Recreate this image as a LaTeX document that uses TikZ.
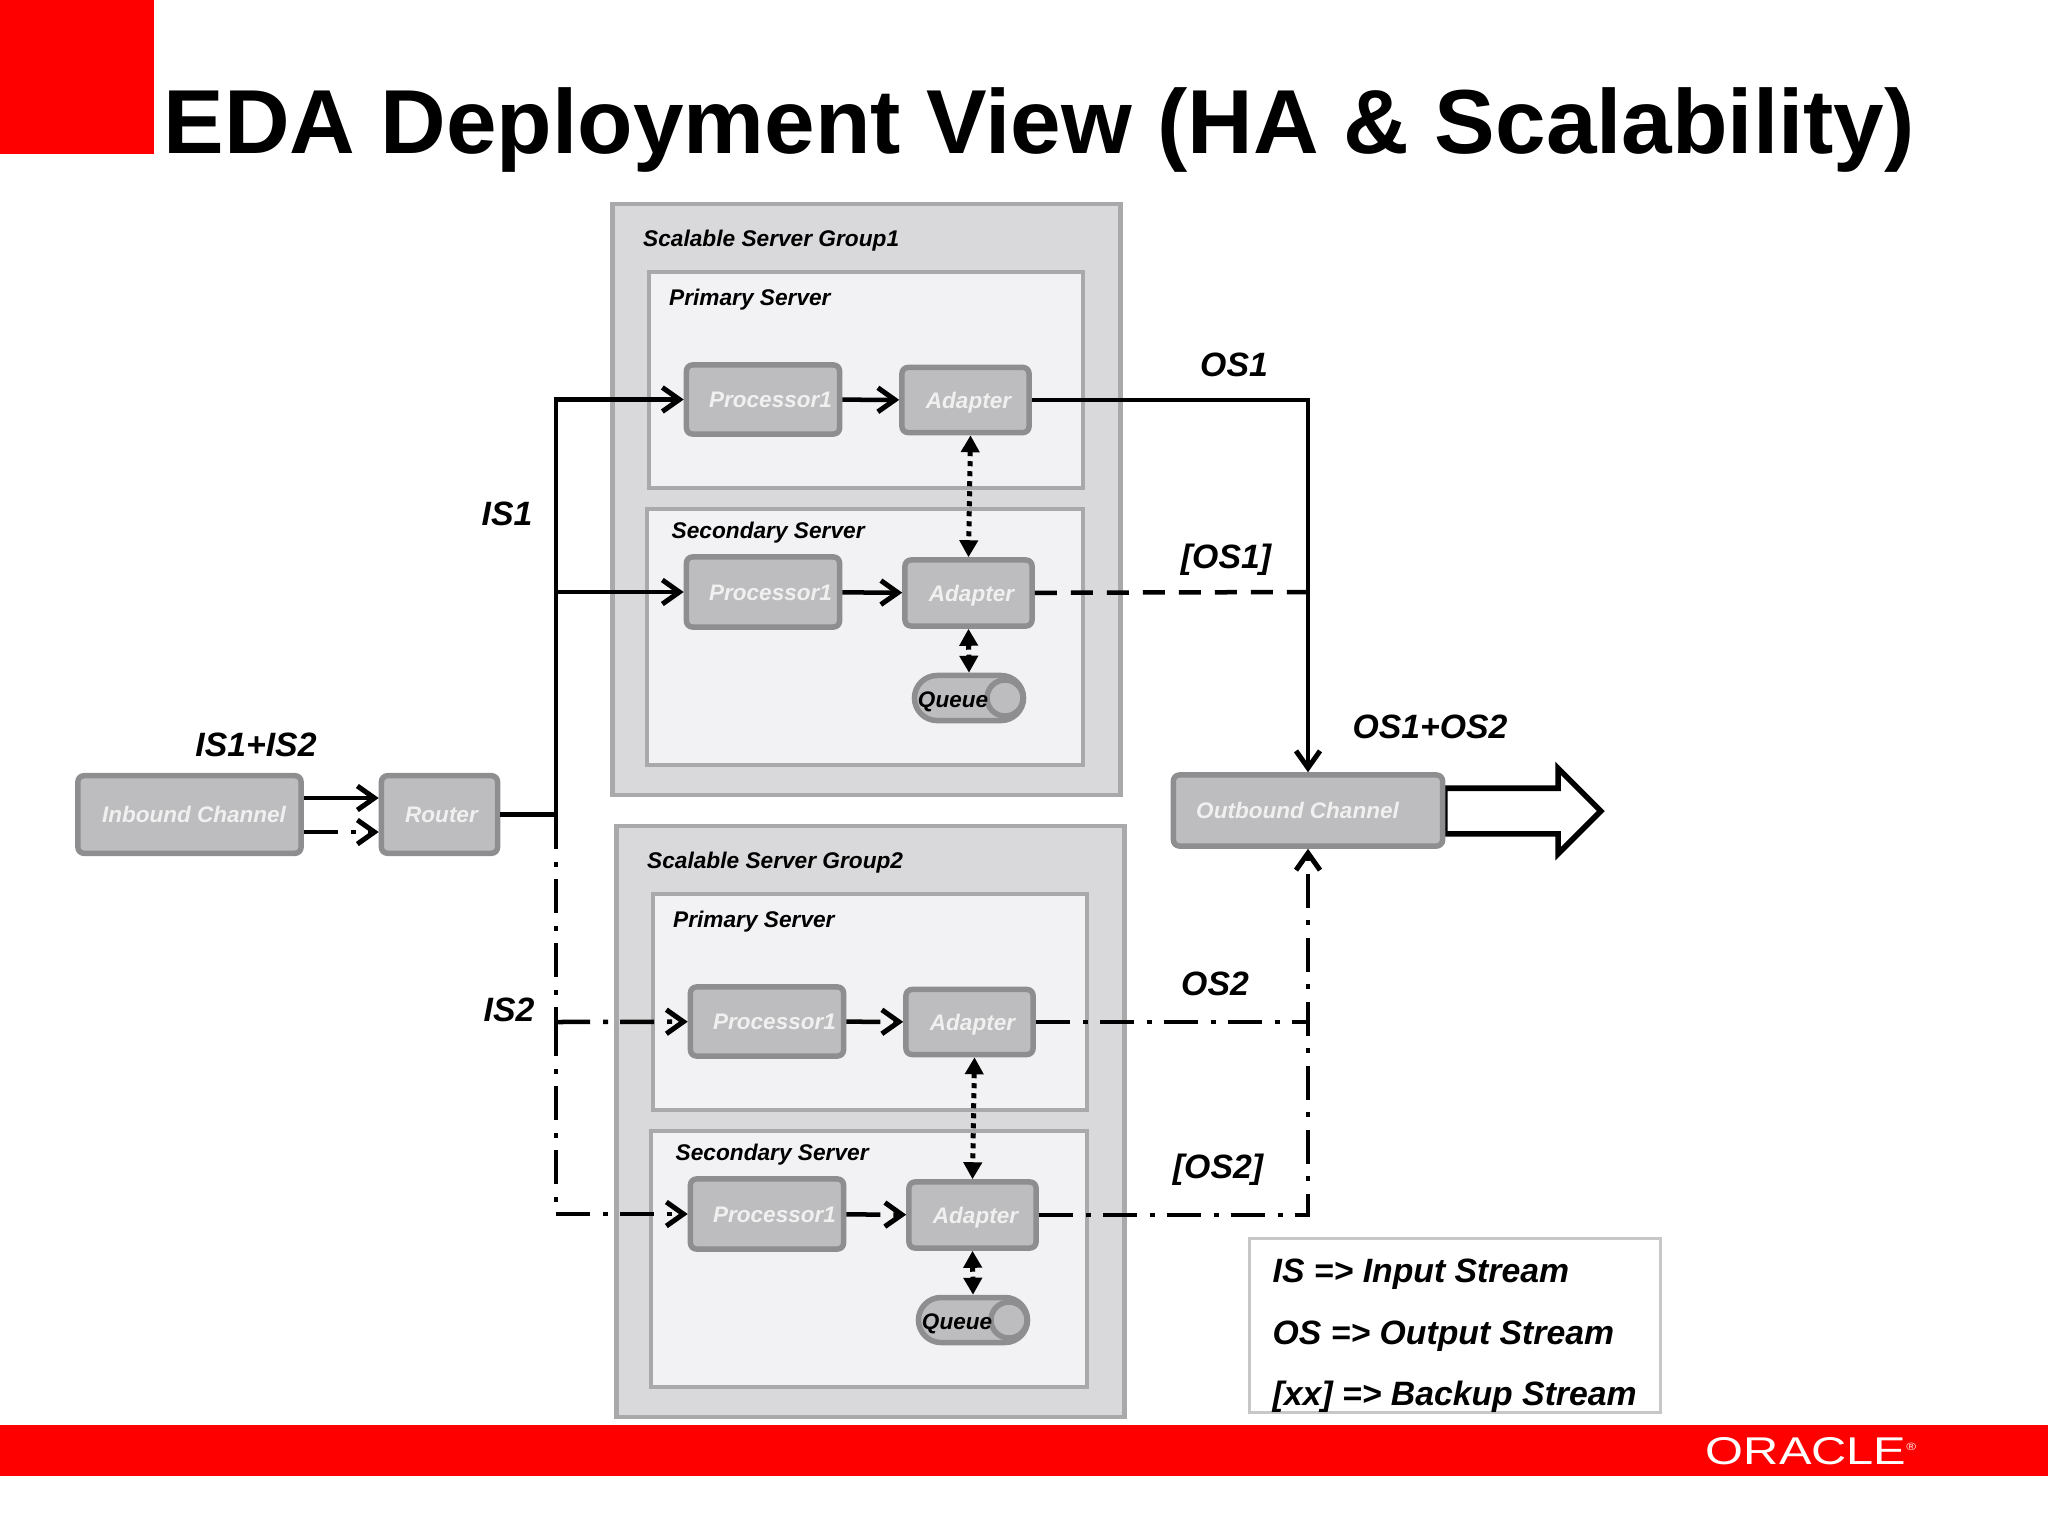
\documentclass[tikz,border=0pt]{standalone}
\usepackage{fontspec}
\setmainfont{Liberation Sans}
\usetikzlibrary{arrows.meta,shapes.misc,shapes.arrows}
\definecolor{oraclered}{HTML}{FF0000}
\definecolor{groupfill}{HTML}{D9D9DB}
\definecolor{groupline}{HTML}{A9A9AB}
\definecolor{serverfill}{HTML}{F2F2F4}
\definecolor{boxfill}{HTML}{BDBDBF}
\definecolor{boxline}{HTML}{8E8E90}
\definecolor{boxtext}{HTML}{F0F0F0}
\tikzstyle{groupbox}=[draw=groupline,fill=groupfill,line width=0.045cm,inner sep=0pt]
\tikzstyle{serverbox}=[draw=groupline,fill=serverfill,line width=0.04cm,inner sep=0pt]
\tikzstyle{unit}=[draw=boxline,fill=boxfill,line width=0.055cm,rounded corners=0.06cm,inner sep=0pt,text=boxtext,text height=0.24cm,text depth=0.08cm,font=\fontsize{6.4}{7}\selectfont\bfseries\itshape]
\tikzstyle{caption}=[anchor=base west,inner sep=0pt,font=\fontsize{6.45}{8}\selectfont\bfseries\itshape]
\tikzstyle{stream}=[inner sep=0pt,font=\fontsize{9.6}{11}\selectfont\bfseries\itshape]
\tikzstyle{flow}=[draw,line width=0.045cm,-{Straight Barb[length=0.17cm,width=0.24cm,line width=0.05cm]}]
\tikzstyle{solidline}=[draw,line width=0.045cm]
\tikzstyle{backupline}=[draw,line width=0.045cm,dash pattern=on 0.22cm off 0.14cm]
\tikzstyle{dashdot}=[dash pattern=on 0.34cm off 0.13cm on 0.05cm off 0.12cm]
\tikzstyle{sync}=[draw,line width=0.05cm,dash pattern=on 0.05cm off 0.05cm,{Triangle[length=0.17cm,width=0.18cm]}-{Triangle[length=0.17cm,width=0.18cm]}]

\begin{document}
\begin{tikzpicture}[x=0.01cm,y=-0.01cm]
    \useasboundingbox (0,0) rectangle (2048,1536);
    % Red corner, footer and title
    \fill[oraclered] (0,0) rectangle (154,154);
    \fill[oraclered] (0,1425) rectangle (2048,1476);
    \node[anchor=base west,inner sep=0pt,font=\fontsize{25.85}{30}\selectfont\bfseries] (title) at (163,153) {EDA Deployment View (HA \& Scalability)};
    \node[inner sep=0pt,text=white,xscale=1.26,transform shape,font=\fontsize{11}{12}\selectfont] (logo) at (1811,1451) {ORACLE\raisebox{0.14cm}{\fontsize{3}{3}\selectfont\textregistered}};

    % Two server groups, the second one is the first moved down
    \foreach \g/\dx/\dy/\inner in {1/0/0/solid,2/4/622/dashdot} {
    \begin{scope}[shift={(\dx,\dy)}]
        \node[groupbox,minimum width=5.08cm,minimum height=5.91cm] (Group\g) at (866.5,499.5) {};
        \node[serverbox,minimum width=4.34cm,minimum height=2.16cm] (Primary\g) at (866,380) {};
        \node[serverbox,minimum width=4.365cm,minimum height=2.56cm] (Secondary\g) at (865,637) {};
        \node[caption] (GroupText\g) at (642.5,246.5) {Scalable Server Group\g};
        \node[caption] (PrimaryText\g) at (668.5,305) {Primary Server};
        \node[caption] (SecondaryText\g) at (671,538.5) {Secondary Server};

        \foreach \pos/\name/\boxw/\boxh/\pad/\txt in {{(763,399.5)/ProcA/1.53/0.69/0.15/Processor1},{(965.5,400)/AdaptA/1.27/0.65/0.06/Adapter},{(763,592)/ProcB/1.53/0.70/0.15/Processor1},{(968.5,593)/AdaptB/1.27/0.66/0.06/Adapter}}
            \node[unit,minimum width=\boxw cm,minimum height=\boxh cm] (\name\g) at \pos {\hspace*{\pad cm}\txt};

        \node[draw=boxline,fill=boxfill,line width=0.055cm,rounded rectangle,inner sep=0pt,minimum width=1.09cm,minimum height=0.45cm] (Queue\g) at (969,698) {};
        \node[circle,draw=boxline,fill=boxfill,line width=0.055cm,inner sep=0pt,minimum size=0.36cm] (QueueEnd\g) at (1005,698) {};
        \node[inner sep=0pt,font=\fontsize{6.4}{7}\selectfont\bfseries\itshape] (QueueText\g) at (953,701.5) {Queue};

        \path[flow,\inner] (ProcA\g) -- (AdaptA\g);
        \path[flow,\inner] (ProcB\g) -- (AdaptB\g);
        \path[sync] ([xshift=0.05cm]AdaptA\g.south) -- (AdaptB\g.north);
        \path[sync] (AdaptB\g.south) -- (Queue\g.north);
    \end{scope}
    }

    % Channels and router
    \node[single arrow,draw=black,fill=white,line width=0.055cm,inner xsep=0pt,inner ysep=0.2cm,anchor=tail,minimum height=1.56cm,minimum width=0.8cm,single arrow head extend=0.2cm,single arrow tip angle=90] (Out) at (1442,811) {};
    \node[unit,minimum width=2.23cm,minimum height=0.775cm] (Inbound) at (189.5,814.5) {\hspace*{0.09cm}Inbound Channel};
    \node[unit,minimum width=1.16cm,minimum height=0.775cm] (Router) at (439.5,814.5) {\hspace*{0.04cm}Router};
    \node[unit,minimum width=2.69cm,minimum height=0.71cm] (Outbound) at (1308,810.5) {Outbound Channel\hspace*{0.21cm}};

    % Junctions on the trunks
    \coordinate (Trunk) at (556,814.5);
    \coordinate (TrunkB1) at (556,592);
    \coordinate (TrunkA2) at (556,1022);
    \coordinate (JoinB1) at (1308,592);
    \coordinate (JoinA2) at (1308,1022);

    % Stream 1
    \path[flow] ([yshift=0.165cm]Inbound.east) -- ([yshift=0.165cm]Router.west);
    \path[solidline] (Router) -- (Trunk);
    \path[flow] (Trunk) |- (ProcA1);
    \path[flow] (TrunkB1) -- (ProcB1);
    \path[flow] (AdaptA1) -| (Outbound);
    \path[backupline] (AdaptB1) -- (JoinB1);

    % Stream 2
    \path[flow,dashdot] ([yshift=-0.175cm]Inbound.east) -- ([yshift=-0.175cm]Router.west);
    \draw[line width=0.045cm,dashdot] (Trunk) -- (TrunkA2);
    \path[flow,dashdot] (TrunkA2) -- (ProcA2);
    \path[flow,dashdot] (TrunkA2) |- (ProcB2);
    \draw[line width=0.045cm,dashdot] (AdaptA2) -- (JoinA2);
    \path[flow,dashdot] (AdaptB2) -| (Outbound);

    % Stream labels
    \foreach \pos/\name/\txt in {{(507,514)/isone/IS1},{(509,1010)/istwo/IS2},{(256,745)/isboth/IS1+IS2},{(1234,365)/osone/OS1},{(1226,560)/bkone/{[OS1]}},{(1215,984)/ostwo/OS2},{(1218,1170)/bktwo/{[OS2]}},{(1430,727)/osboth/OS1+OS2}}
        \node[stream] (\name) at \pos {\txt};

    % Legend
    \node[draw=black!22,fill=white,line width=0.03cm,minimum width=4.1cm,minimum height=1.73cm,inner sep=0pt] (legend) at (1455,1325.5) {};
    \foreach \ypos/\name/\txt in {1282/legA/IS => Input Stream,1344/legB/OS => Output Stream,1405/legC/{[xx] => Backup Stream}}
        \node[stream,anchor=base west] (\name) at (1272,\ypos) {\txt};
\end{tikzpicture}
\end{document}
